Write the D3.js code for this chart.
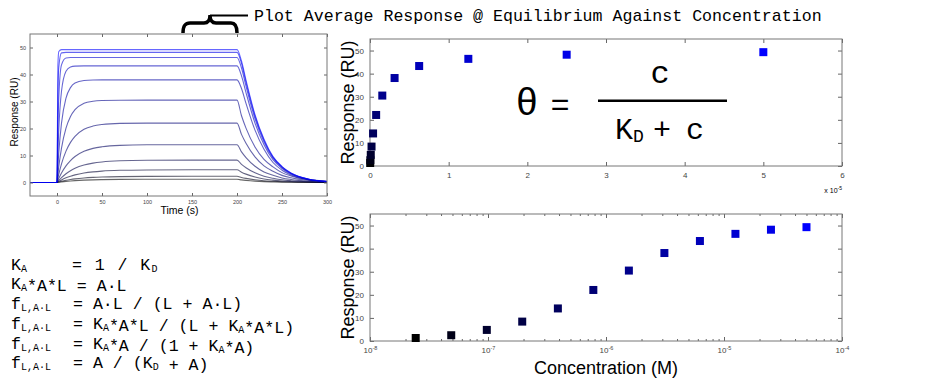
<!DOCTYPE html>
<html>
<head>
<meta charset="utf-8">
<title>SPR equilibrium analysis</title>
<script src="https://d3js.org/d3.v7.min.js"></script>
<style>
  body { margin: 0; background: #fff; }
  svg { display: block; }
  .mono { font-family: "Courier New", "Liberation Mono", monospace; fill: #000; }
  .lab { font-family: "Liberation Sans", Arial, sans-serif; fill: #000; }
</style>
</head>
<body>
<div id="chart"></div>
<script>
// sample times (s) shared by every sensorgram trace
var times = [-30, 0, 1, 2, 5, 10, 15, 20, 30, 40, 50, 70, 100, 150, 200, 205, 210, 220, 230, 240, 250, 260, 280, 300];

// response (RU) of each trace, lowest concentration first
var sensorgrams = [
  [0, 0, 0.05, 0.1, 0.23, 0.42, 0.57, 0.69, 0.87, 0.99, 1.06, 1.14, 1.18, 1.2, 1.2, 0.97, 0.79, 0.52, 0.34, 0.23, 0.14, 0.1, 0.04, 0.02],
  [0, 0, 0.1, 0.19, 0.45, 0.82, 1.11, 1.35, 1.69, 1.9, 2.04, 2.19, 2.27, 2.3, 2.3, 1.86, 1.52, 0.99, 0.64, 0.44, 0.28, 0.18, 0.08, 0.03],
  [0, 0, 0.21, 0.41, 0.96, 1.73, 2.34, 2.82, 3.52, 3.95, 4.23, 4.51, 4.65, 4.7, 4.7, 3.81, 3.1, 2.02, 1.32, 0.89, 0.56, 0.38, 0.16, 0.07],
  [0, 0, 0.41, 0.79, 1.83, 3.26, 4.38, 5.25, 6.45, 7.18, 7.62, 8.05, 8.24, 8.3, 8.3, 6.72, 5.48, 3.57, 2.32, 1.58, 1.0, 0.66, 0.29, 0.12],
  [0, 0, 0.79, 1.53, 3.53, 6.16, 8.13, 9.62, 11.54, 12.63, 13.23, 13.76, 13.96, 14, 14, 11.34, 9.24, 6.02, 3.92, 2.66, 1.68, 1.12, 0.49, 0.21],
  [0, 0, 1.59, 3.06, 6.89, 11.62, 14.85, 17.09, 19.69, 20.9, 21.47, 21.89, 21.99, 22, 22, 17.82, 14.52, 9.46, 6.16, 4.18, 2.64, 1.76, 0.77, 0.33],
  [0, 0, 3.12, 5.92, 12.72, 20.13, 24.46, 26.99, 29.31, 30.1, 30.36, 30.48, 30.5, 30.5, 30.5, 24.71, 20.13, 13.12, 8.54, 5.8, 3.66, 2.44, 1.07, 0.46],
  [0, 0, 6.04, 11.1, 22.0, 31.27, 35.15, 36.82, 37.77, 37.96, 38, 38, 38, 38, 38, 34.8, 29.3, 19.4, 12.35, 7.41, 4.56, 2.74, 0.95, 0.3],
  [0, 0, 11.36, 19.74, 33.78, 41.17, 42.77, 43.11, 43.2, 43.2, 43.2, 43.2, 43.2, 43.2, 43.2, 39.5, 33.3, 22.0, 14.0, 8.42, 5.18, 3.11, 1.08, 0.35],
  [0, 0, 20.05, 31.39, 43.57, 46.14, 46.3, 46.3, 46.3, 46.3, 46.3, 46.3, 46.3, 46.3, 46.3, 42.4, 35.7, 23.6, 15.0, 9.03, 5.56, 3.33, 1.16, 0.37],
  [0, 0, 32.0, 42.75, 48.0, 48.2, 48.2, 48.2, 48.2, 48.2, 48.2, 48.2, 48.2, 48.2, 48.2, 44.1, 37.1, 24.6, 15.7, 9.4, 5.78, 3.47, 1.2, 0.39],
  [0, 0, 43.4, 48.5, 49.2, 49.2, 49.2, 49.2, 49.2, 49.2, 49.2, 49.2, 49.2, 49.2, 49.2, 45.0, 37.9, 25.1, 16.0, 9.6, 5.9, 3.54, 1.23, 0.39]
];

// analyte concentration (M) and averaged equilibrium response (RU)
var concentrations = [2.44e-8, 4.88e-8, 9.77e-8, 1.95e-7, 3.91e-7, 7.81e-7, 1.5625e-6, 3.125e-6, 6.25e-6, 1.25e-5, 2.5e-5, 5e-5];
var equilibrium = [1.3, 2.5, 4.8, 8.4, 14.1, 22.1, 30.5, 38.1, 43.3, 46.4, 48.2, 49.3];

var timeTicks = [0, 50, 100, 150, 200, 250, 300];
var responseTicks = [0, 10, 20, 30, 40, 50];
var linearTicks = [0, 1e-5, 2e-5, 3e-5, 4e-5, 5e-5, 6e-5];
var linearTickLabels = ["0", "1", "2", "3", "4", "5", "6"];
var logTicks = [1e-8, 1e-7, 1e-6, 1e-5, 1e-4];
var logTickExponents = ["-8", "-7", "-6", "-5", "-4"];

var svg = d3.select("#chart").append("svg")
    .attr("width", 935)
    .attr("height", 380);

var shade = d3.scaleLinear()
    .domain([0, concentrations.length - 1])
    .range(["#000000", "#0000ff"]);

// matlab style box with ticks pointing inwards on all four sides
function frame(g, x, y, w, h, o) {
    var bottom = g.append("g")
        .attr("transform", "translate(0," + h + ")")
        .call(d3.axisBottom(x).tickValues(o.xTicks).tickSize(-o.tick).tickPadding(o.pad).tickFormat(o.xFormat));
    g.append("g")
        .call(d3.axisTop(x).tickValues(o.xTicks).tickSize(-o.tick).tickFormat(""));
    g.append("g")
        .call(d3.axisLeft(y).tickValues(o.yTicks).tickSize(-o.tick).tickPadding(o.pad).tickFormat(d3.format("d")));
    g.append("g")
        .attr("transform", "translate(" + w + ",0)")
        .call(d3.axisRight(y).tickValues(o.yTicks).tickSize(-o.tick).tickFormat(""));
    g.selectAll(".domain").remove();
    g.selectAll(".tick line").attr("stroke", "#666");
    g.selectAll(".tick text")
        .attr("fill", "#444")
        .attr("font-family", "Liberation Sans, Arial, sans-serif")
        .attr("font-size", o.font);
    g.append("rect")
        .attr("width", w)
        .attr("height", h)
        .attr("fill", "none")
        .attr("stroke", "#777")
        .attr("stroke-width", 1);
    return bottom;
}

// ---------- sensorgrams ----------
var s = {left: 30, top: 34, width: 297, height: 162};
var gs = svg.append("g").attr("transform", "translate(" + s.left + "," + s.top + ")");

var xt = d3.scaleLinear().domain([-30, 300]).range([0, s.width]);
var ys = d3.scaleLinear().domain([-5, 55]).range([s.height, 0]);

var trace = d3.line()
    .x(function(d, i) { return xt(times[i]); })
    .y(function(d) { return ys(d); })
    .curve(d3.curveMonotoneX);

gs.selectAll("path.trace")
    .data(sensorgrams)
    .enter()
    .append("path")
    .attr("class", "trace")
    .attr("d", trace)
    .attr("fill", "none")
    .attr("stroke", function(d, i) { return shade(i); })
    .attr("stroke-width", 1.1)
    .attr("stroke-opacity", 0.6);

frame(gs, xt, ys, s.width, s.height, {
    xTicks: timeTicks, yTicks: responseTicks, tick: 3, pad: 4, font: 5.5, xFormat: d3.format("d")
});

gs.append("text")
    .attr("class", "lab")
    .attr("x", s.width / 2 + 1)
    .attr("y", s.height + 18)
    .attr("text-anchor", "middle")
    .attr("font-size", 10.5)
    .text("Time (s)");

gs.append("text")
    .attr("class", "lab")
    .attr("transform", "translate(-12," + (s.height / 2 - 3) + ") rotate(-90)")
    .attr("text-anchor", "middle")
    .attr("font-size", 10)
    .text("Response (RU)");

// ---------- linear isotherm ----------
var p = {left: 370, top: 39, width: 472, height: 127};
var gl = svg.append("g").attr("transform", "translate(" + p.left + "," + p.top + ")");

var xl = d3.scaleLinear().domain([0, 6e-5]).range([0, p.width]);
var yr = d3.scaleLinear().domain([0, 55]).range([p.height, 0]);

frame(gl, xl, yr, p.width, p.height, {
    xTicks: linearTicks, yTicks: responseTicks, tick: 4, pad: 6, font: 8,
    xFormat: function(d, i) { return linearTickLabels[i]; }
});

var sq = 8;
gl.selectAll("rect.pt")
    .data(equilibrium)
    .enter()
    .append("rect")
    .attr("class", "pt")
    .attr("x", function(d, i) { return xl(concentrations[i]) - sq / 2; })
    .attr("y", function(d) { return yr(d) - sq / 2; })
    .attr("width", sq)
    .attr("height", sq)
    .attr("fill", function(d, i) { return shade(i); });

var mult = gl.append("text")
    .attr("class", "lab")
    .attr("x", p.width)
    .attr("y", p.height + 27)
    .attr("text-anchor", "end")
    .attr("font-size", 7)
    .attr("fill", "#444");
mult.append("tspan").text("x 10");
mult.append("tspan").attr("dy", -3).attr("font-size", 5).text("-5");

gl.append("text")
    .attr("class", "lab")
    .attr("transform", "translate(-16," + (p.height / 2) + ") rotate(-90)")
    .attr("text-anchor", "middle")
    .attr("font-size", 18)
    .text("Response (RU)");

// equation
var eq = gl.append("g").attr("class", "mono");
eq.append("text").attr("x", 157).attr("y", 76).attr("text-anchor", "middle").attr("font-size", 38).text("\u03b8");
eq.append("text").attr("x", 190).attr("y", 76).attr("text-anchor", "middle").attr("font-size", 32).text("=");
eq.append("rect").attr("x", 228).attr("y", 60.5).attr("width", 129).attr("height", 2.5).attr("fill", "#000");
eq.append("text").attr("x", 290).attr("y", 44).attr("text-anchor", "middle").attr("font-size", 32).text("c");
var kd = eq.append("text").attr("x", 245).attr("y", 100).attr("font-size", 30);
kd.append("tspan").text("K");
kd.append("tspan").attr("font-size", 18).attr("dy", 3).text("D");
eq.append("text").attr("x", 292).attr("y", 100).attr("text-anchor", "middle").attr("font-size", 30).text("+");
eq.append("text").attr("x", 325).attr("y", 100).attr("text-anchor", "middle").attr("font-size", 30).text("c");

// ---------- log isotherm ----------
var q = {left: 370, top: 214, width: 472, height: 127};
var gg = svg.append("g").attr("transform", "translate(" + q.left + "," + q.top + ")");

var xg = d3.scaleLog().domain([1e-8, 1e-4]).range([0, q.width]);
var yg = d3.scaleLinear().domain([0, 55]).range([q.height, 0]);

var minor = xg.ticks().filter(function(d) { return logTicks.indexOf(d) < 0; });
gg.append("g")
    .attr("transform", "translate(0," + q.height + ")")
    .call(d3.axisBottom(xg).tickValues(minor).tickSize(-2).tickFormat(""));
gg.append("g")
    .call(d3.axisTop(xg).tickValues(minor).tickSize(-2).tickFormat(""));

var gb = frame(gg, xg, yg, q.width, q.height, {
    xTicks: logTicks, yTicks: responseTicks, tick: 4, pad: 6, font: 8,
    xFormat: function() { return ""; }
});

gb.selectAll(".tick text").each(function(d, i) {
    var t = d3.select(this).text(null);
    t.append("tspan").text("10");
    t.append("tspan").attr("dy", -3).attr("font-size", 5.5).text(logTickExponents[i]);
});

gg.selectAll("rect.pt")
    .data(equilibrium)
    .enter()
    .append("rect")
    .attr("class", "pt")
    .attr("x", function(d, i) { return xg(concentrations[i]) - sq / 2; })
    .attr("y", function(d) { return yg(d) - sq / 2; })
    .attr("width", sq)
    .attr("height", sq)
    .attr("fill", function(d, i) { return shade(i); });

gg.append("text")
    .attr("class", "lab")
    .attr("transform", "translate(-16," + (q.height / 2) + ") rotate(-90)")
    .attr("text-anchor", "middle")
    .attr("font-size", 18)
    .text("Response (RU)");

gg.append("text")
    .attr("class", "lab")
    .attr("x", q.width / 2)
    .attr("y", q.height + 33)
    .attr("text-anchor", "middle")
    .attr("font-size", 18)
    .text("Concentration (M)");

// ---------- title with brace ----------
svg.append("path")
    .attr("d", "M183,33 C183,26 185,23 190,23 L204,23 C208,23 210,20 210,15 C210,20 212,23 216,23 L231,23 C235,23 237,26 237,33")
    .attr("fill", "none")
    .attr("stroke", "#000")
    .attr("stroke-width", 3.5);
svg.append("line")
    .attr("x1", 210).attr("y1", 15.5).attr("x2", 248).attr("y2", 15.5)
    .attr("stroke", "#000").attr("stroke-width", 2);
svg.append("text")
    .attr("class", "mono")
    .attr("x", 254)
    .attr("y", 21)
    .attr("font-size", 16.6)
    .text("Plot Average Response @ Equilibrium Against Concentration");

// ---------- rate relations ----------
var rel = svg.append("g").attr("class", "mono").attr("font-size", 16.6);

function sub(t, s) { t.append("tspan").attr("font-size", 10).attr("dy", 2).text(s); t.append("tspan").attr("dy", -2).text(""); }

var r1 = rel.append("text").attr("x", 11).attr("y", 270);
r1.append("tspan").text("K"); sub(r1, "A");
var r1b = rel.append("text").attr("x", 72).attr("y", 270).attr("letter-spacing", 1.4);
r1b.append("tspan").text("= 1 / K"); sub(r1b, "D");

var r2 = rel.append("text").attr("x", 11).attr("y", 289).attr("xml:space", "preserve");
r2.append("tspan").text("K"); sub(r2, "A");
r2.append("tspan").text("*A*L = A\u00b7L");

var fLines = [
    [["= A\u00b7L / (L + A\u00b7L)"]],
    [["= K"], ["A", 1], ["*A*L / (L + K"], ["A", 1], ["*A*L)"]],
    [["= K"], ["A", 1], ["*A / (1 + K"], ["A", 1], ["*A)"]],
    [["= A / (K"], ["D", 1], [" + A)"]]
];
var fBase = [309, 329, 349, 368];
fLines.forEach(function(parts, j) {
    var a = rel.append("text").attr("x", 11).attr("y", fBase[j]);
    a.append("tspan").text("f"); sub(a, "L,A\u00b7L");
    var b = rel.append("text").attr("x", 73).attr("y", fBase[j]).attr("xml:space", "preserve");
    parts.forEach(function(pt) {
        if (pt[1]) sub(b, pt[0]); else b.append("tspan").text(pt[0]);
    });
});
</script>
</body>
</html>
